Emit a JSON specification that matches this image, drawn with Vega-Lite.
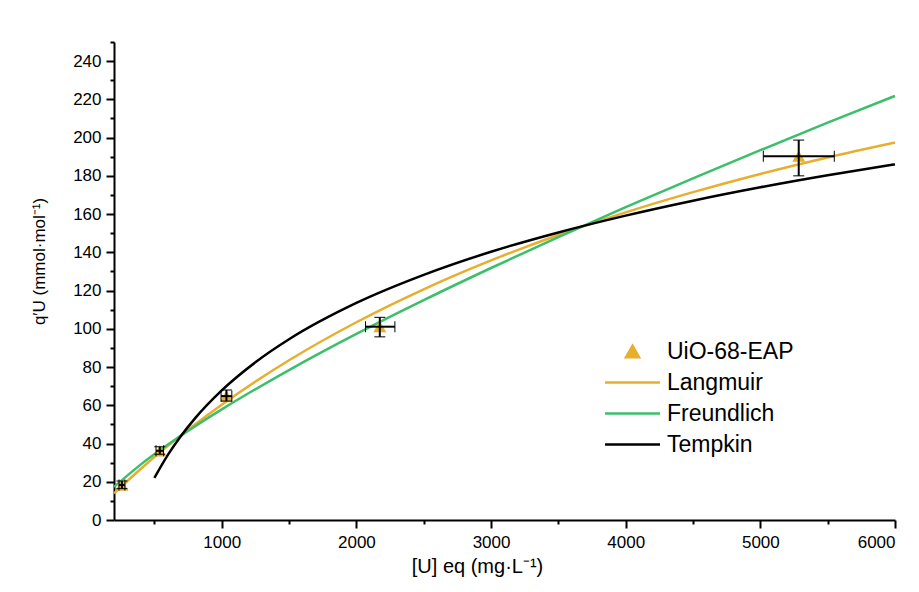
{
  "$schema": "https://vega.github.io/schema/vega-lite/v6.json",
  "width": 781,
  "height": 478,
  "autosize": {"type": "none"},
  "padding": {"left": 114, "top": 42, "right": 24, "bottom": 72},
  "background": "white",
  "config": {
    "font": "Liberation Sans",
    "view": {"stroke": null},
    "axis": {
      "grid": false,
      "domainColor": "black",
      "domainWidth": 2,
      "tickColor": "black",
      "tickWidth": 2,
      "labelColor": "black",
      "labelFont": "Liberation Sans",
      "labelFontSize": 17,
      "titleFont": "Liberation Sans",
      "titleFontWeight": "normal",
      "titleColor": "black"
    }
  },
  "datasets": {
    "pts": [
      {"series": "UiO-68-EAP", "C": 259, "q": 18.3, "xlo": 237, "xhi": 281, "ylo": 16.4, "yhi": 20.4},
      {"series": "UiO-68-EAP", "C": 540, "q": 36.2, "xlo": 512, "xhi": 568, "ylo": 34.4, "yhi": 38.3},
      {"series": "UiO-68-EAP", "C": 1035, "q": 64.8, "xlo": 995, "xhi": 1075, "ylo": 62.2, "yhi": 68.0},
      {"series": "UiO-68-EAP", "C": 2174, "q": 101.1, "xlo": 2068, "xhi": 2286, "ylo": 95.8, "yhi": 106.0},
      {"series": "UiO-68-EAP", "C": 5285, "q": 190.3, "xlo": 5022, "xhi": 5549, "ylo": 180.0, "yhi": 198.7}
    ],
    "curves": [
      {"series": "Langmuir", "C": 200, "q": 13.92},
      {"series": "Langmuir", "C": 400, "q": 26.81},
      {"series": "Langmuir", "C": 600, "q": 38.79},
      {"series": "Langmuir", "C": 800, "q": 49.93},
      {"series": "Langmuir", "C": 1000, "q": 60.33},
      {"series": "Langmuir", "C": 1500, "q": 83.54},
      {"series": "Langmuir", "C": 2000, "q": 103.43},
      {"series": "Langmuir", "C": 2500, "q": 120.67},
      {"series": "Langmuir", "C": 3000, "q": 135.75},
      {"series": "Langmuir", "C": 3500, "q": 149.06},
      {"series": "Langmuir", "C": 4000, "q": 160.89},
      {"series": "Langmuir", "C": 4500, "q": 171.47},
      {"series": "Langmuir", "C": 5000, "q": 181.0},
      {"series": "Langmuir", "C": 5500, "q": 189.62},
      {"series": "Langmuir", "C": 6000, "q": 197.45},
      {"series": "Freundlich", "C": 200, "q": 17.3},
      {"series": "Freundlich", "C": 400, "q": 29.1},
      {"series": "Freundlich", "C": 600, "q": 39.44},
      {"series": "Freundlich", "C": 800, "q": 48.93},
      {"series": "Freundlich", "C": 1000, "q": 57.85},
      {"series": "Freundlich", "C": 1500, "q": 78.4},
      {"series": "Freundlich", "C": 2000, "q": 97.3},
      {"series": "Freundlich", "C": 2500, "q": 115.0},
      {"series": "Freundlich", "C": 3000, "q": 131.8},
      {"series": "Freundlich", "C": 3500, "q": 148.0},
      {"series": "Freundlich", "C": 4000, "q": 163.6},
      {"series": "Freundlich", "C": 4500, "q": 178.7},
      {"series": "Freundlich", "C": 5000, "q": 193.4},
      {"series": "Freundlich", "C": 5500, "q": 207.8},
      {"series": "Freundlich", "C": 6000, "q": 221.8},
      {"series": "Tempkin", "C": 500, "q": 22.0},
      {"series": "Tempkin", "C": 600, "q": 34.03},
      {"series": "Tempkin", "C": 700, "q": 44.21},
      {"series": "Tempkin", "C": 800, "q": 53.02},
      {"series": "Tempkin", "C": 1000, "q": 67.75},
      {"series": "Tempkin", "C": 1250, "q": 82.47},
      {"series": "Tempkin", "C": 1500, "q": 94.51},
      {"series": "Tempkin", "C": 2000, "q": 113.5},
      {"series": "Tempkin", "C": 2500, "q": 128.2},
      {"series": "Tempkin", "C": 3000, "q": 140.3},
      {"series": "Tempkin", "C": 3500, "q": 150.4},
      {"series": "Tempkin", "C": 4000, "q": 159.2},
      {"series": "Tempkin", "C": 4500, "q": 167.0},
      {"series": "Tempkin", "C": 5000, "q": 174.0},
      {"series": "Tempkin", "C": 5500, "q": 180.3},
      {"series": "Tempkin", "C": 6000, "q": 186.0}
    ]
  },
  "resolve": {"axis": {"x": "independent", "y": "independent"}},
  "layer": [
    {
      "data": {"name": "curves"},
      "mark": {"type": "line", "interpolate": "monotone", "strokeWidth": 2.5},
      "encoding": {
        "x": {
          "field": "C", "type": "quantitative",
          "scale": {"domain": [200, 6000], "nice": false, "zero": false},
          "axis": {
            "orient": "bottom", "values": [1000, 2000, 3000, 4000, 5000, 6000],
            "tickSize": 8, "labelPadding": 6, "format": "d",
            "title": "[U] eq (mg·L⁻¹)", "titleFontSize": 20, "titlePadding": 6, "titleX": 363
          }
        },
        "y": {
          "field": "q", "type": "quantitative",
          "scale": {"domain": [0, 250], "nice": false},
          "axis": {
            "orient": "left", "values": [0, 20, 40, 60, 80, 100, 120, 140, 160, 180, 200, 220, 240],
            "tickSize": 8, "labelPadding": 5,
            "title": "q′U (mmol·mol⁻¹)", "titleFontSize": 17, "titlePadding": 24, "titleY": 219
          }
        },
        "color": {
          "field": "series", "type": "nominal",
          "scale": {
            "domain": ["UiO-68-EAP", "Langmuir", "Freundlich", "Tempkin"],
            "range": ["#E8AE2E", "#E8AE2E", "#3CBF6A", "#000000"]
          },
          "legend": {
            "orient": "none", "legendX": 507, "legendY": 298, "title": null, "padding": 0,
            "labelFontSize": 23, "labelFont": "Liberation Sans", "labelColor": "black",
            "symbolSize": 100, "rowPadding": 7, "labelOffset": 23,
            "encode": {
              "symbols": {
                "update": {
                  "shape": {"signal": "datum.value === 'UiO-68-EAP' ? 'triangle-up' : 'M-5.5,0H5.5'"},
                  "size": {"signal": "datum.value === 'UiO-68-EAP' ? 170 : 100"},
                  "fill": {"signal": "datum.value === 'UiO-68-EAP' ? '#E8AE2E' : 'transparent'"},
                  "stroke": {"signal": "datum.value === 'UiO-68-EAP' ? 'transparent' : (datum.value === 'Langmuir' ? '#E8AE2E' : (datum.value === 'Freundlich' ? '#3CBF6A' : '#000000'))"},
                  "strokeWidth": {"value": 2.5},
                  "opacity": {"value": 1}
                }
              }
            }
          }
        }
      }
    },
    {
      "data": {"name": "pts"},
      "mark": {"type": "point", "shape": "triangle-up", "filled": true, "size": 170, "opacity": 1},
      "encoding": {
        "x": {
          "field": "C", "type": "quantitative",
          "axis": {
            "orient": "bottom", "values": [500, 1500, 2500, 3500, 4500, 5500],
            "tickSize": 4, "labels": false, "domain": false, "title": null
          }
        },
        "y": {
          "field": "q", "type": "quantitative",
          "axis": {
            "orient": "left", "values": [10, 30, 50, 70, 90, 110, 130, 150, 170, 190, 210, 230, 250],
            "tickSize": 4, "labels": false, "domain": false, "title": null
          }
        },
        "color": {"field": "series", "type": "nominal"}
      }
    },
    {
      "data": {"name": "pts"},
      "mark": {"type": "errorbar", "ticks": {"size": 11, "color": "black", "strokeWidth": 2, "opacity": 1}, "rule": {"strokeWidth": 2, "color": "black", "opacity": 1}, "color": "black"},
      "encoding": {
        "x": {"field": "C", "type": "quantitative", "axis": null},
        "y": {"field": "ylo", "type": "quantitative", "axis": null},
        "y2": {"field": "yhi"}
      }
    },
    {
      "data": {"name": "pts"},
      "mark": {"type": "errorbar", "ticks": {"size": 11, "color": "black", "strokeWidth": 2, "opacity": 1}, "rule": {"strokeWidth": 2, "color": "black", "opacity": 1}, "color": "black"},
      "encoding": {
        "y": {"field": "q", "type": "quantitative", "axis": null},
        "x": {"field": "xlo", "type": "quantitative", "axis": null},
        "x2": {"field": "xhi"}
      }
    }
  ]
}
